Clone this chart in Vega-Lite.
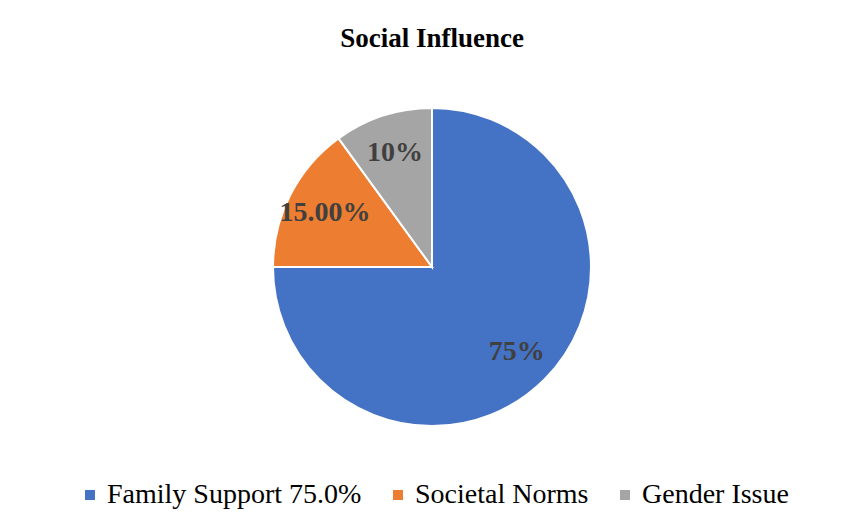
{
  "$schema": "https://vega.github.io/schema/vega-lite/v6.json",
  "autosize": "none",
  "width": 824,
  "height": 454,
  "padding": {"left": 20, "top": 40, "right": 0, "bottom": 30},
  "background": "white",
  "title": {
    "text": "Social Influence",
    "font": "Liberation Serif",
    "fontSize": 27,
    "fontWeight": "bold",
    "color": "#000000",
    "anchor": "middle",
    "offset": -13
  },
  "data": {
    "values": [
      {"category": "Family Support 75.0%", "value": 75, "label": "75%", "order": 1},
      {"category": "Societal Norms", "value": 15, "label": "15.00%", "order": 2},
      {"category": "Gender Issue", "value": 10, "label": "10%", "order": 3}
    ]
  },
  "encoding": {
    "theta": {"field": "value", "type": "quantitative", "stack": true},
    "order": {"field": "order", "type": "quantitative"}
  },
  "layer": [
    {
      "mark": {"type": "arc", "outerRadius": 159, "stroke": "white", "strokeWidth": 2},
      "encoding": {
        "color": {
          "field": "category",
          "type": "nominal",
          "scale": {
            "domain": ["Family Support 75.0%", "Societal Norms", "Gender Issue"],
            "range": ["#4472C4", "#ED7D31", "#A5A5A5"]
          },
          "legend": {
            "orient": "none",
            "direction": "horizontal",
            "legendX": 56,
            "legendY": 441,
            "title": null,
            "symbolType": "square",
            "symbolSize": 100,
            "symbolStrokeWidth": 0,
            "labelFont": "Liberation Serif",
            "labelFontSize": 28,
            "labelColor": "#000000",
            "labelLimit": 400,
            "columnPadding": 22,
            "labelOffset": 3
          }
        }
      }
    },
    {
      "mark": {
        "type": "text",
        "radius": 120,
        "font": "Liberation Serif",
        "fontSize": 28,
        "fontWeight": "bold",
        "color": "#404040"
      },
      "encoding": {
        "text": {"field": "label", "type": "nominal"}
      }
    }
  ]
}
